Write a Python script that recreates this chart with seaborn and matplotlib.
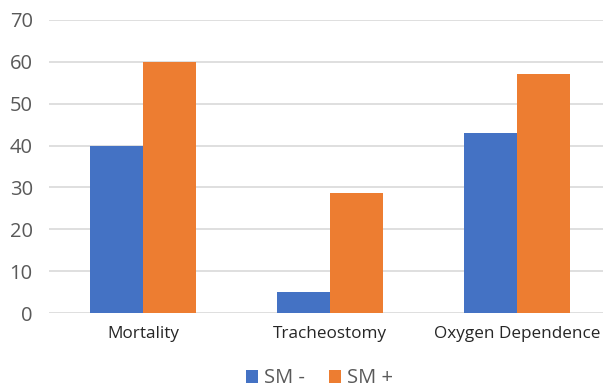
import matplotlib
matplotlib.use("Agg")
import matplotlib.pyplot as plt
import seaborn as sns
import pandas as pd

categories = ["Mortality", "Tracheostomy", "Oxygen Dependence"]
series_names = ["SM -", "SM +"]
sm_minus = [40, 5, 43]
sm_plus = [60, 28.6, 57]
y_ticks = [0, 10, 20, 30, 40, 50, 60, 70]

df = pd.DataFrame({
    "category": categories * 2,
    "series": [series_names[0]] * 3 + [series_names[1]] * 3,
    "value": sm_minus + sm_plus,
})

sns.set_theme(style="white")
plt.rcParams["font.family"] = ["Open Sans", "DejaVu Sans"]

fig = plt.figure(figsize=(6.03, 3.9), dpi=100)
ax = fig.add_axes([0.082, 0.197, 0.930, 0.752])

palette = {"SM -": "#4472C4", "SM +": "#ED7D31"}
sns.barplot(data=df, x="category", y="value", hue="series", order=categories,
            hue_order=series_names, palette=palette, width=0.567, saturation=1,
            linewidth=0, ax=ax, legend=True)

ax.set_ylim(0, 70)
ax.set_yticks(y_ticks)
ax.yaxis.grid(True, color="#D9D9D9", linewidth=1.2)
ax.set_axisbelow(True)
for s in ax.spines.values():
    s.set_visible(False)
ax.set_xlabel("")
ax.set_ylabel("")
ax.tick_params(axis="y", labelsize=14.5, labelcolor="#595959", length=0, pad=12)
ax.tick_params(axis="x", labelsize=12.3, labelcolor="#262626", length=0, pad=9)
ax.set_xlim(-0.5, 2.5)

leg = fig.legend(*ax.get_legend_handles_labels(), loc="center",
                 bbox_to_anchor=(0.53, 0.03), ncol=2, borderpad=0.1,
                 frameon=False, fontsize=14.5, handlelength=0.6, handleheight=0.6,
                 handletextpad=0.3, columnspacing=1.2)
ax.get_legend().remove()
for t in leg.get_texts():
    t.set_color("#595959")

fig.savefig("out.png", dpi=100)
